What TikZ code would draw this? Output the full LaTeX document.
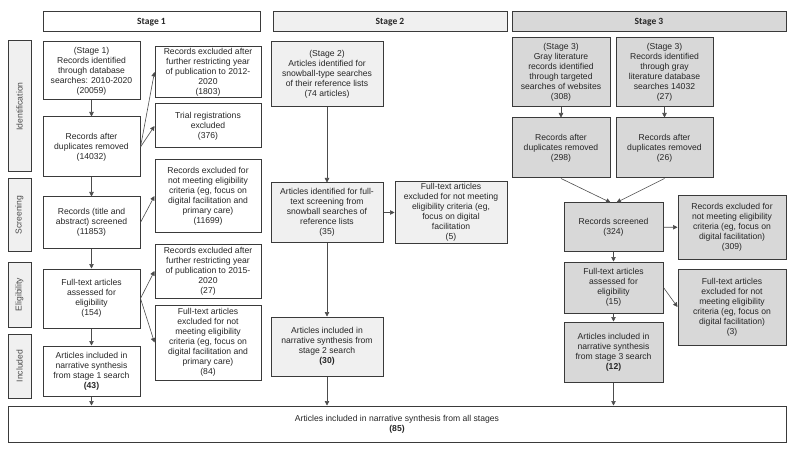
\documentclass[tikz,border=0pt]{standalone}
\usepackage{fontspec}
\setmainfont{Liberation Sans}
\newfontfamily\headfont{Carlito}
\usetikzlibrary{arrows.meta}

\definecolor{lightbox}{HTML}{F0F0F0}
\definecolor{darkbox}{HTML}{D8D8D8}
\definecolor{edge}{HTML}{3A3A3A}

\begin{document}
\begin{tikzpicture}[x=1pt, y=-1pt,
    box/.style={draw=edge, line width=1pt, align=center, inner sep=1pt,
                font=\fontsize{8.6}{10}\selectfont, text=black!85},
    wh/.style 2 args={minimum width=#1, minimum height=#2},
    head/.style={box, minimum height=20pt, font=\headfont\bfseries\fontsize{9.5}{10}\selectfont},
    side/.style={box, fill=lightbox, rotate=90, minimum height=23pt, text=black!70},
    arr/.style={-{Triangle[length=4.5pt, width=4.5pt]}, draw=black!70, line width=0.6pt}]
  \useasboundingbox (0,0) rectangle (800,449);

  \node[head, minimum width=217pt] (head1) at (151.5,22) {Stage 1};
  \node[head, fill=lightbox, minimum width=234pt] (head2) at (390,22) {Stage 2};
  \node[head, fill=darkbox, minimum width=274pt] (head3) at (649,22) {Stage 3};

  \node[side, minimum width=131pt] (ident) at (19.5,106.5) {Identification};
  \node[side, minimum width=72pt] (screening) at (19.5,215) {Screening};
  \node[side, minimum width=65pt] (elig) at (19.5,294.5) {Eligibility};
  \node[side, minimum width=64pt] (included) at (19.5,366) {Included};

  \node[box, wh={97pt}{58pt}] (found1) at (91.5,71)
    {(Stage 1)\\Records identified\\through database\\searches: 2010-2020\\(20059)};
  \node[box, wh={97pt}{60pt}] (dedup1) at (91.5,147)
    {Records after\\duplicates removed\\(14032)};
  \node[box, wh={97pt}{51pt}] (screen1) at (91.5,222.5)
    {Records (title and\\abstract) screened\\(11853)};
  \node[box, wh={97pt}{59pt}] (full1) at (91.5,298.5)
    {Full-text articles\\assessed for\\eligibility\\(154)};
  \node[box, wh={97pt}{50pt}] (incl1) at (91.5,371)
    {Articles included in\\narrative synthesis\\from stage 1 search\\\textbf{(43)}};

  \node[box, wh={106pt}{50pt}] (year1) at (208,72)
    {Records excluded after\\further restricting year\\of publication to 2012-\\2020\\(1803)};
  \node[box, wh={106pt}{44pt}] (trial1) at (208,126)
    {Trial registrations\\excluded\\(376)};
  \node[box, wh={106pt}{72pt}] (crit1) at (208,196)
    {Records excluded for\\not meeting eligibility\\criteria (eg, focus on\\digital facilitation and\\primary care)\\(11699)};
  \node[box, wh={106pt}{54pt}] (year2) at (208,271)
    {Records excluded after\\further restricting year\\of publication to 2015-\\2020\\(27)};
  \node[box, wh={106pt}{75pt}] (crit2) at (208,342.5)
    {Full-text articles\\excluded for not\\meeting eligibility\\criteria (eg, focus on\\digital facilitation and\\primary care)\\(84)};

  \node[box, fill=lightbox, wh={112pt}{65pt}] (found2) at (327,74.5)
    {(Stage 2)\\Articles identified for\\snowball-type searches\\of their reference lists\\(74 articles)};
  \node[box, fill=lightbox, wh={112pt}{59pt}] (full2) at (327,212.5)
    {Articles identified for full-\\text screening from\\snowball searches of\\reference lists\\(35)};
  \node[box, fill=lightbox, wh={112pt}{61pt}] (crit3) at (451,212.5)
    {Full-text articles\\excluded for not meeting\\eligibility criteria (eg,\\focus on digital\\facilitation\\(5)};
  \node[box, fill=lightbox, wh={112pt}{59pt}] (incl2) at (327,346.5)
    {Articles included in\\narrative synthesis from\\stage 2 search\\\textbf{(30)}};

  \node[box, fill=darkbox, wh={98pt}{69pt}] (gray3) at (561,72.5)
    {(Stage 3)\\Gray literature\\records identified\\through targeted\\searches of websites\\(308)};
  \node[box, fill=darkbox, wh={97pt}{69pt}] (base3) at (664.5,72.5)
    {(Stage 3)\\Records identified\\through gray\\literature database\\searches 14032\\(27)};
  \node[box, fill=darkbox, wh={98pt}{60pt}] (dedup3a) at (561,148)
    {Records after\\duplicates removed\\(298)};
  \node[box, fill=darkbox, wh={97pt}{60pt}] (dedup3b) at (664.5,148)
    {Records after\\duplicates removed\\(26)};
  \node[box, fill=darkbox, wh={99pt}{48pt}] (screen3) at (613.5,227)
    {Records screened\\(324)};
  \node[box, fill=darkbox, wh={108pt}{63pt}] (crit4) at (732,227.5)
    {Records excluded for\\not meeting eligibility\\criteria (eg, focus on\\digital facilitation)\\(309)};
  \node[box, fill=darkbox, wh={99pt}{51pt}] (full3) at (613.5,287.5)
    {Full-text articles\\assessed for\\eligibility\\(15)};
  \node[box, fill=darkbox, wh={108pt}{76pt}] (crit5) at (732,307)
    {Full-text articles\\excluded for not\\meeting eligibility\\criteria (eg, focus on\\digital facilitation)\\(3)};
  \node[box, fill=darkbox, wh={99pt}{60pt}] (incl3) at (613.5,352)
    {Articles included in\\narrative synthesis\\from stage 3 search\\\textbf{(12)}};

  \node[box, wh={778pt}{36pt}] (all) at (397,424)
    {Articles included in narrative synthesis from all stages\\\textbf{(85)}};

  \draw[arr] (found1) -- (dedup1);
  \draw[arr] (dedup1) -- (screen1);
  \draw[arr] (screen1) -- (full1);
  \draw[arr] (full1) -- (incl1);
  \draw[arr] (incl1) -- (incl1 |- all.north);
  \draw[arr] (dedup1.east) -- (year1.west);
  \draw[arr] (dedup1.east) -- (trial1.west);
  \draw[arr] (screen1.east) -- (crit1.west);
  \draw[arr] (full1.east) -- (year2.west);
  \draw[arr] (full1.east) -- (crit2.west);

  \draw[arr] (found2) -- (full2);
  \draw[arr] (full2) -- (crit3);
  \draw[arr] (full2) -- (incl2);
  \draw[arr] (incl2) -- (incl2 |- all.north);

  \draw[arr] (gray3) -- (dedup3a);
  \draw[arr] (base3) -- (dedup3b);
  \draw[arr] (dedup3a.south) -- ([xshift=-3pt]screen3.north);
  \draw[arr] (dedup3b.south) -- ([xshift=3pt]screen3.north);
  \draw[arr] (screen3) -- (crit4);
  \draw[arr] (screen3) -- (full3);
  \draw[arr] (full3.east) -- (crit5.west);
  \draw[arr] (full3) -- (incl3);
  \draw[arr] (incl3) -- (incl3 |- all.north);
\end{tikzpicture}
\end{document}
